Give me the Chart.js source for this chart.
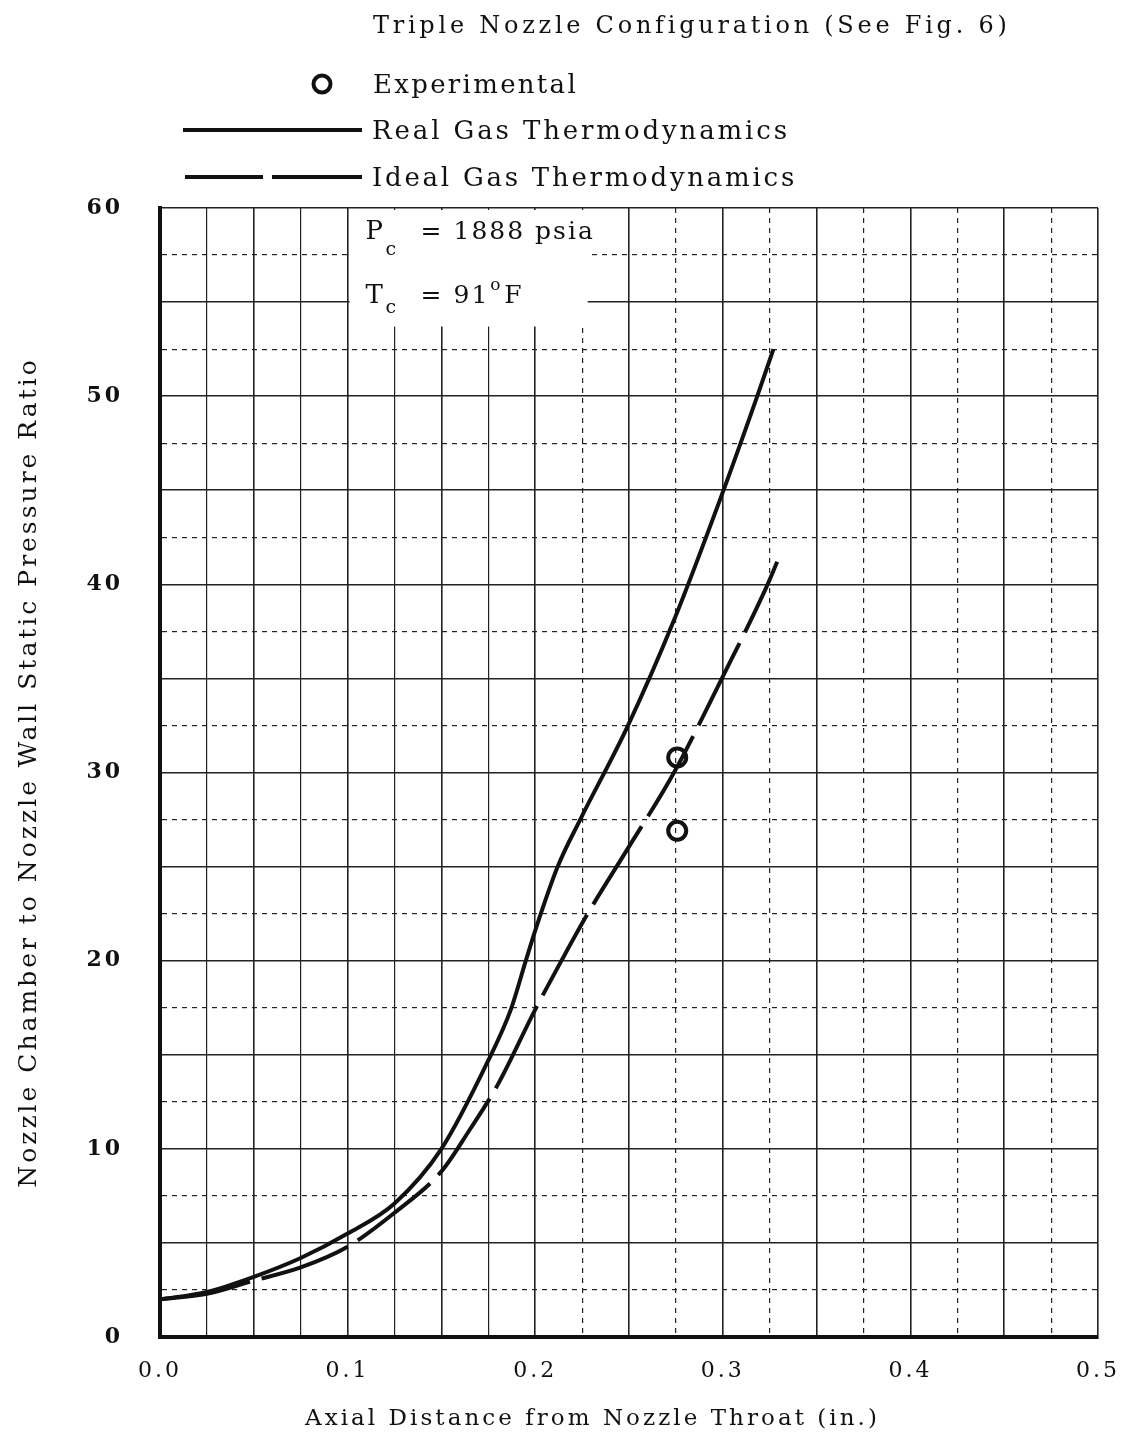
<!DOCTYPE html>
<html>
<head>
<meta charset="utf-8">
<script src="https://cdn.jsdelivr.net/npm/chart.js@4.4.0/dist/chart.umd.min.js"></script>
<style>
  html, body { margin: 0; padding: 0; background: #fff; }
  #wrap { position: relative; width: 1141px; height: 1433px; overflow: hidden; }
  #chart { position: absolute; left: 0; top: 0; }
  #keys { position: absolute; left: 0; top: 0; }
  .txt { position: absolute; font-family: "DejaVu Serif", serif; color: #111; white-space: nowrap; line-height: 1; }
</style>
</head>
<body>
<div id="wrap">
  <canvas id="chart" width="1141" height="1433"></canvas>
  <svg id="keys" width="1141" height="200">
    <circle cx="322" cy="84" r="8.5" fill="none" stroke="#111" stroke-width="4"/>
    <line x1="183" y1="130" x2="362" y2="130" stroke="#111" stroke-width="4"/>
    <line x1="185" y1="177" x2="263" y2="177" stroke="#111" stroke-width="4"/>
    <line x1="272" y1="177" x2="362" y2="177" stroke="#111" stroke-width="4"/>
  </svg>
  <div class="txt fit" data-w="637" style="left:373px; top:13px; font-size:24px;">Triple Nozzle Configuration (See Fig. 6)</div>
  <div class="txt fit" data-w="205" style="left:373px; top:71px; font-size:26px;">Experimental</div>
  <div class="txt fit" data-w="418" style="left:372px; top:117px; font-size:26px;">Real Gas Thermodynamics</div>
  <div class="txt fit" data-w="425" style="left:372px; top:164px; font-size:26px;">Ideal Gas Thermodynamics</div>
  <div class="txt fit" data-w="575" style="left:305px; top:1406px; font-size:23px;">Axial Distance from Nozzle Throat (in.)</div>
</div>
<script>
// values
var realX = [0, 0.025, 0.05, 0.075, 0.1, 0.125, 0.15, 0.175, 0.187, 0.195, 0.2, 0.212, 0.224, 0.249, 0.274, 0.3, 0.318, 0.327];
var realY = [2.0, 2.4, 3.2, 4.2, 5.5, 7.1, 10.0, 14.7, 17.4, 20.0, 21.6, 25.0, 27.5, 32.4, 38.1, 44.9, 49.9, 52.5];

var idealX = [0, 0.025, 0.05, 0.075, 0.1, 0.125, 0.15, 0.165, 0.18, 0.2, 0.214, 0.228, 0.249, 0.274, 0.299, 0.323, 0.329];
var idealY = [2.0, 2.3, 3.0, 3.7, 4.8, 6.6, 8.8, 11.0, 13.4, 17.4, 20.0, 22.5, 25.9, 30.0, 34.9, 39.8, 41.2];

var expX = [0.2757, 0.2757];
var expY = [30.8, 26.9];

var xTickLabels = ['0.0', '0.1', '0.2', '0.3', '0.4', '0.5'];
var yTickLabels = ['0', '10', '20', '30', '40', '50', '60'];

function toPoints(xs, ys) {
  return xs.map(function(x, i) { return {x: x, y: ys[i]}; });
}

function fitText() {
  document.querySelectorAll('.fit').forEach(function(el) {
    el.style.letterSpacing = '0px';
    var w = el.getBoundingClientRect().width;
    var n = el.textContent.length;
    el.style.letterSpacing = ((parseFloat(el.dataset.w) - w) / n) + 'px';
  });
}
fitText();

// parameters box in the top left corner of the grid
var noteBox = {x0: 0.1, x1: 0.228, y0: 53.7, y1: 60};

var spacing = {
  id: 'spacing',
  beforeUpdate: function(chart) { chart.ctx.letterSpacing = '3px'; },
  beforeDraw: function(chart) { chart.ctx.letterSpacing = '3px'; }
};

var notePlugin = {
  id: 'note',
  beforeDatasetsDraw: function(chart) {
    var ctx = chart.ctx, xs = chart.scales.x, ys = chart.scales.y;
    var l = xs.getPixelForValue(noteBox.x0) + 2;
    var r = xs.getPixelForValue(noteBox.x1);
    var t = ys.getPixelForValue(noteBox.y1) + 2;
    var b = ys.getPixelForValue(noteBox.y0);
    ctx.save();
    ctx.fillStyle = '#fff';
    ctx.fillRect(l, t, r - l, b - t);
    ctx.fillStyle = '#111';
    ctx.textBaseline = 'alphabetic';
    ctx.letterSpacing = '1px';
    var px = l + 16, b1 = t + 29, b2 = t + 93, ex = l + 71;
    ctx.font = '26px "DejaVu Serif"';
    ctx.fillText('P', px, b1);
    ctx.fillText('T', px, b2);
    ctx.font = '19px "DejaVu Serif"';
    ctx.fillText('c', px + 20, b1 + 16);
    ctx.fillText('c', px + 20, b2 + 10);
    ctx.letterSpacing = '2px';
    ctx.font = '25px "DejaVu Serif"';
    ctx.fillText('= 1888 psia', ex, b1);
    ctx.fillText('= 91', ex, b2);
    var w = ctx.measureText('= 91').width;
    ctx.font = '17px "DejaVu Serif"';
    ctx.fillText('o', ex + w + 1, b2 - 13);
    ctx.font = '25px "DejaVu Serif"';
    ctx.fillText('F', ex + w + 15, b2);
    ctx.restore();
  }
};

function onStep(v, step) {
  return Math.abs(v / step - Math.round(v / step)) < 1e-6;
}

var chartElement = document.getElementById('chart');
var lineChart = new Chart(chartElement, {
  type: 'line',
  data: {
    datasets: [{
      label: 'Real Gas Thermodynamics',
      data: toPoints(realX, realY),
      borderColor: '#111',
      borderWidth: 4,
      pointRadius: 0,
      cubicInterpolationMode: 'monotone',
      fill: false
    }, {
      label: 'Ideal Gas Thermodynamics',
      data: toPoints(idealX, idealY),
      borderColor: '#111',
      borderWidth: 4,
      borderDash: [92, 12],
      pointRadius: 0,
      cubicInterpolationMode: 'monotone',
      fill: false
    }, {
      label: 'Experimental',
      type: 'scatter',
      data: toPoints(expX, expY),
      pointStyle: 'circle',
      pointRadius: 9,
      borderWidth: 4,
      borderColor: '#111',
      backgroundColor: 'rgba(0,0,0,0)',
      showLine: false
    }]
  },
  options: {
    responsive: false,
    animation: false,
    layout: {padding: {top: 208, right: 38, left: 0, bottom: 0}},
    plugins: {legend: {display: false}, tooltip: {enabled: false}},
    scales: {
      x: {
        type: 'linear',
        min: 0,
        max: 0.5,
        afterFit: function(s) { s.height = 96; },
        ticks: {
          stepSize: 0.025,
          autoSkip: false,
          maxRotation: 0,
          padding: 21,
          color: '#111',
          font: {family: 'DejaVu Serif', size: 22},
          callback: function(v) {
            if (!onStep(v, 0.1)) return '';
            return xTickLabels[Math.round(v * 10)];
          }
        },
        grid: {
          color: '#222',
          drawTicks: false,
          lineWidth: function(c) { return onStep(c.tick.value, 0.05) ? 1.6 : 1.2; }
        },
        border: {
          color: '#111',
          width: 4,
          dash: function(c) {
            if (!c.tick) return [];
            var v = c.tick.value;
            return (v > 0.2 && !onStep(v, 0.05)) ? [5, 5] : [];
          }
        }
      },
      y: {
        min: 0,
        max: 60,
        afterFit: function(s) { s.width = 160; },
        title: {
          display: true,
          text: 'Nozzle Chamber to Nozzle Wall Static Pressure Ratio',
          color: '#111',
          font: {family: 'DejaVu Serif', size: 25},
          padding: {top: 14, bottom: 0}
        },
        ticks: {
          stepSize: 2.5,
          autoSkip: false,
          padding: 37,
          color: '#111',
          font: {family: 'DejaVu Serif', size: 22, weight: 'bold'},
          callback: function(v) {
            if (!onStep(v, 10)) return '';
            return yTickLabels[Math.round(v / 10)];
          }
        },
        grid: {
          color: '#222',
          drawTicks: false,
          lineWidth: function(c) { return onStep(c.tick.value, 5) ? 1.6 : 1.2; }
        },
        border: {
          color: '#111',
          width: 4,
          dash: function(c) {
            if (!c.tick) return [];
            return onStep(c.tick.value, 5) ? [] : [5, 5];
          }
        }
      }
    }
  },
  plugins: [spacing, notePlugin]
});
</script>
</body>
</html>
